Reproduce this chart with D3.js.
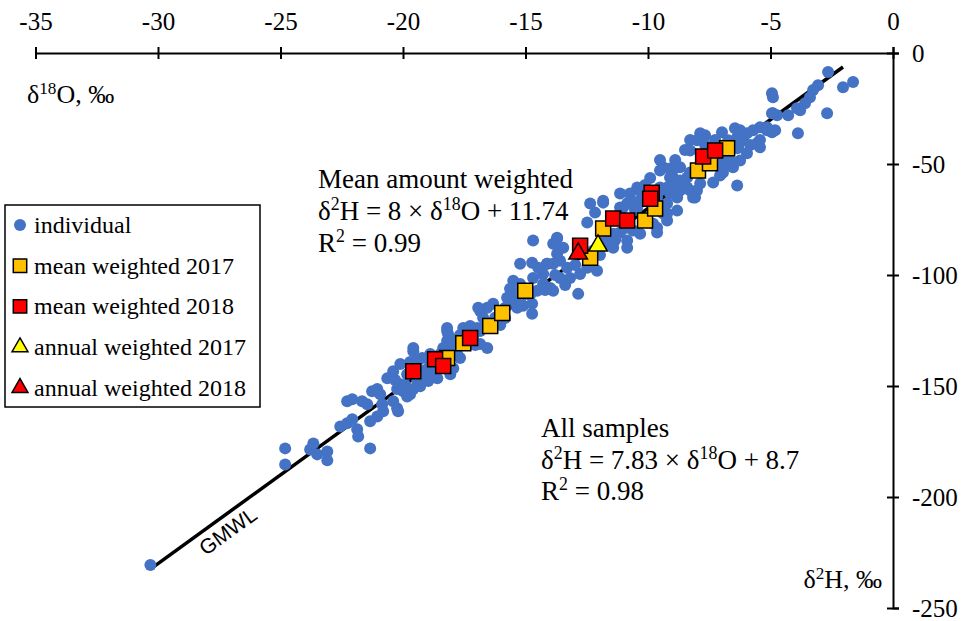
<!DOCTYPE html>
<html>
<head>
<meta charset="utf-8">
<script src="https://cdn.jsdelivr.net/npm/d3@7"></script>
<style>
  body { margin: 0; background: #fff; }
  svg text { font-family: 'Liberation Serif', 'Times New Roman', serif; fill: #000; }
  .gm { font-family: 'Liberation Sans', Arial, sans-serif; }
</style>
</head>
<body>
<div id="root"></div>
<script>
// δ18O, δ2H (‰)
const individual = [
  [-2.65,-8.6],[-2.04,-15.4],[-1.63,-13.1],[-2.69,-27.1],[-3.06,-14.5],[-3.26,-16.7],[-3.39,-19.9],[-3.59,-22.6],
  [-3.79,-25.8],[-3.92,-24.9],[-4.94,-18.1],[-4.90,-19.9],[-4.94,-27.1],[-4.73,-28.0],[-4.28,-28.0],[-3.88,-36.2],
  [-5.43,-42.5],[-5.14,-34.8],[-4.81,-34.8],[-5.43,-33.5],[-5.71,-34.8],[-5.96,-36.2],[-6.24,-34.8],[-6.36,-38.0],
  [-6.12,-39.3],[-5.96,-45.2],[-6.32,-42.5],[-6.36,-59.7],[-6.98,-35.7],[-6.73,-39.3],[-6.53,-42.5],[-7.87,-36.2],
  [-7.67,-37.1],[-8.00,-39.3],[-8.28,-43.9],[-9.38,-51.5],[-9.51,-52.9],[-9.10,-52.0],[-8.81,-51.5],[-8.98,-56.1],
  [-8.69,-57.4],[-8.40,-56.1],[-8.28,-54.2],[-8.69,-61.9],[-8.81,-65.1],[-8.28,-61.9],[-8.08,-65.1],[-7.06,-48.4],
  [-6.94,-53.8],[-6.65,-48.4],[-10.44,-60.6],[-10.73,-63.3],[-11.14,-63.3],[-10.85,-67.8],[-10.44,-69.6],[-9.38,-69.6],
  [-9.22,-72.3],[-9.51,-60.6],[-9.10,-63.3],[-9.63,-65.1],[-11.83,-67.4],[-12.16,-71.9],[-12.48,-76.4],[-11.14,-69.6],
  [-9.79,-76.9],[-9.63,-80.9],[-11.14,-80.9],[-10.85,-84.5],[-11.55,-83.2],[-11.42,-87.7],
  [-7.75,-38.0],[-6.45,-33.9],[-6.24,-36.2],[-5.14,-33.5],[-4.90,-27.1],[-4.94,-35.7],[-5.55,-40.7],[-6.36,-42.9],
  [-6.24,-48.4],[-6.53,-51.5],[-6.94,-51.5],[-6.77,-48.4],[-7.06,-55.2],[-7.34,-58.3],[-7.87,-58.8],[-8.00,-61.9],
  [-8.40,-60.6],[-8.81,-58.8],[-9.10,-56.1],[-8.69,-51.5],[-8.28,-53.8],[-8.98,-63.3],[-9.22,-67.8],[-8.81,-71.0],
  [-8.16,-65.1],[-9.22,-60.6],[-9.51,-61.9],[-10.73,-66.5],[-11.02,-69.6],[-11.14,-73.2],[-11.83,-66.5],[-9.38,-72.3],
  [-10.32,-61.9],
  [-9.51,-71.0],[-9.22,-75.5],[-9.63,-78.7],[-10.32,-81.4],[-10.61,-80.0],[-11.42,-81.4],[-11.67,-85.9],[-10.85,-87.7],
  [-12.24,-89.1],[-12.48,-96.7],[-12.08,-98.1],[-12.77,-99.5],[-13.18,-101.3],[-13.59,-101.3],[-13.30,-96.7],[-13.59,-93.6],
  [-13.87,-94.9],[-13.71,-90.4],[-13.46,-87.7],[-13.71,-83.6],[-14.12,-94.9],[-14.28,-99.5],[-14.48,-96.7],[-14.73,-94.5],
  [-14.69,-101.3],[-14.28,-104.0],[-13.99,-105.8],[-14.52,-107.1],[-14.93,-107.1],[-15.22,-104.0],[-15.50,-102.6],[-15.63,-106.2],
  [-15.34,-108.5],[-15.75,-110.3],[-15.50,-111.7],[-15.83,-114.8],[-15.34,-114.8],[-15.10,-113.9],[-14.73,-113.0],[-12.85,-108.5],
  [-13.87,-107.1],[-16.32,-113.0],[-16.56,-114.8],[-16.85,-116.2],[-16.73,-119.3],[-16.24,-119.3],[-16.44,-122.1],[-14.73,-117.5],
  [-16.85,-125.2],[-17.14,-126.6],[-17.54,-123.9],[-17.26,-123.0],[-18.20,-123.9],[-18.16,-126.6],[-18.20,-129.7],[-17.99,-132.9],
  [-18.36,-132.9],[-18.48,-135.6],[-16.85,-131.1],[-16.56,-132.9],[-19.58,-132.9],[-18.89,-135.6],[-19.22,-137.4],[-19.42,-138.8],
  [-20.11,-140.1],[-20.40,-143.3],[-19.83,-144.7],[-19.18,-146.5],[-18.97,-147.8],[-18.07,-144.7],[-17.95,-142.0],[-17.67,-137.4],
  [-20.64,-146.5],
  [-24.81,-178.1],[-24.81,-185.4],[-23.79,-178.6],[-23.66,-175.9],[-23.50,-180.8],[-23.09,-179.5],[-23.09,-183.5],[-22.56,-168.2],
  [-22.28,-166.8],[-22.07,-165.0],[-21.87,-169.5],[-21.83,-172.7],[-22.28,-156.9],[-22.07,-156.0],[-21.67,-156.9],[-21.46,-158.2],
  [-21.34,-178.1],[-21.26,-152.4],[-21.05,-151.4],[-20.93,-153.7],[-20.85,-158.2],[-20.81,-161.4],[-21.05,-163.7],[-21.34,-165.9],
  [-20.40,-156.9],[-20.24,-160.0],[-20.20,-161.4],[-20.24,-151.4],[-20.11,-149.2],[-19.99,-152.4],[-19.83,-154.7],[-19.71,-153.7],
  [-19.58,-151.4],[-19.42,-147.8],[-19.30,-150.1],[-19.18,-147.8],[-19.58,-134.3],[-18.77,-144.7],[-18.60,-146.5],[-18.48,-142.0],
  [-18.20,-138.8],[-18.20,-125.2],[-18.07,-128.4],[-17.95,-131.1],[-17.79,-135.6],[-17.54,-131.1],[-17.38,-129.7],[-17.14,-128.4],
  [-16.97,-123.9],[-16.93,-114.8],
  [-14.69,-84.5],[-15.22,-94.9],[-13.87,-85.9],[-14.12,-94.9],[-13.71,-83.2],[-12.36,-67.8],
  [-5.43,-39.2],[-5.83,-41.4],[-6.65,-43.7],[-7.26,-39.2],[-7.67,-41.4],[-8.28,-39.2],[-8.49,-43.7],[-8.89,-48.2],
  [-9.51,-48.2],[-9.91,-56.3],[-10.12,-59.5],[-10.32,-66.2],[-10.53,-70.7],[-10.93,-78.8],[-11.34,-84.2],[-11.75,-84.2],
  [-11.96,-91.0],[-12.36,-95.5],[-12.97,-95.5],[-13.38,-104.5],[-13.79,-100.0],[-14.20,-106.8],[-14.81,-109.0],[-15.22,-111.3],
  [-15.83,-119.4],[-16.03,-122.5],[-16.65,-122.5],[-17.05,-131.5],[-17.67,-127.0],[-17.87,-133.8],[-18.48,-138.3],[-18.89,-140.5],
  [-19.71,-139.2],[-20.32,-147.3],[-19.91,-149.5],[-19.09,-142.8],
  [-30.31,-230.6]
];
const mean2017 = [
  [-18.20,-137.4],[-17.54,-130.7],[-16.44,-123.0],[-15.95,-117.1],[-15.01,-107.1],[-12.36,-92.2],[-11.83,-79.1],
  [-10.12,-75.5],[-9.71,-70.1],[-7.96,-52.9],[-7.47,-49.7],[-6.77,-42.9]
];
const mean2018 = [
  [-19.58,-143.3],[-18.69,-137.9],[-18.36,-141.0],[-17.26,-128.4],[-12.77,-86.8],[-11.42,-74.6],[-10.85,-75.5],
  [-9.85,-62.9],[-9.91,-65.6],[-7.75,-46.6],[-7.26,-43.9]
];
const annual2017 = [[-12.04,-86.8]];
const annual2018 = [[-12.85,-90.4]];
const gmwl = [[-30.31,-232.5],[-2.04,-6.3]];
const xTicks = [-35,-30,-25,-20,-15,-10,-5,0];
const yTicks = [0,-50,-100,-150,-200,-250];

const W = 978, H = 621;
const blue = '#4472C4', orange = '#FFC000', red = '#FF0000', yellow = '#FFFF00';

const svg = d3.select('#root').append('svg').attr('width', W).attr('height', H);

const x = d3.scaleLinear().domain([-35, 0]).range([35.5, 893]);
const y = d3.scaleLinear().domain([-250, 0]).range([608, 53]);

// top axis (δ18O)
const ax = svg.append('g').attr('transform', `translate(0,${y(0)})`)
  .call(d3.axisTop(x).tickValues(xTicks).tickSizeOuter(0).tickSize(6).tickFormat(d3.format('d')));
ax.select('.domain').attr('stroke', '#000').attr('stroke-width', 2);
ax.selectAll('.tick line').attr('y1', -6).attr('y2', 6).attr('stroke', '#000').attr('stroke-width', 2);
ax.selectAll('.tick text').attr('y', -23).attr('dy', 0).style('font-size', '25px')
  .text(d => d < 0 ? '-' + Math.abs(d) : d);

// right axis (δ2H)
const ay = svg.append('g').attr('transform', `translate(${x(0)},0)`)
  .call(d3.axisRight(y).tickValues(yTicks).tickSizeOuter(0).tickSize(6));
ay.select('.domain').attr('stroke', '#000').attr('stroke-width', 2);
ay.selectAll('.tick line').attr('x1', -6).attr('x2', 6).attr('stroke', '#000').attr('stroke-width', 2);
ay.selectAll('.tick text').attr('x', 19).attr('dy', '0.35em').style('font-size', '25px')
  .text(d => d < 0 ? '-' + Math.abs(d) : d);

// text with superscripts: parts = [[string, isSup], ...]
function rich(g, px, py, fs, parts, anchor) {
  const t = g.append('text').attr('x', px).attr('y', py).style('font-size', fs + 'px')
    .attr('text-anchor', anchor || 'start');
  const sh = fs * 0.36;
  let up = false;
  parts.forEach(([s, sup]) => {
    const ts = t.append('tspan').text(s);
    if (sup) { ts.style('font-size', (fs * 0.66) + 'px').attr('dy', up ? 0 : -sh); up = true; }
    else { if (up) ts.attr('dy', sh); up = false; }
  });
  return t;
}

rich(svg, 27, 103, 26, [['δ'], ['18', 1], ['O, ‰']]);
rich(svg, 882, 588, 26, [['δ'], ['2', 1], ['H, ‰']], 'end');

// GMWL line
svg.append('line')
  .attr('x1', x(gmwl[0][0])).attr('y1', y(gmwl[0][1]))
  .attr('x2', x(gmwl[1][0])).attr('y2', y(gmwl[1][1]))
  .attr('stroke', '#000').attr('stroke-width', 3.5);

const ang = Math.atan2(y(gmwl[1][1]) - y(gmwl[0][1]), x(gmwl[1][0]) - x(gmwl[0][0])) * 180 / Math.PI;
const gx = -27.5, gy = 8 * gx + 10;
svg.append('text').attr('class', 'gm')
  .attr('transform', `translate(${x(gx)},${y(gy)}) rotate(${ang})`)
  .attr('y', 22).attr('text-anchor', 'middle').style('font-size', '21px').text('GMWL');

// individual samples
svg.append('g').selectAll('circle').data(individual).join('circle')
  .attr('cx', d => x(d[0])).attr('cy', d => y(d[1])).attr('r', 6).attr('fill', blue);

const sq = d3.symbol().type(d3.symbolSquare).size(225);
const tri = d3.symbol().type(d3.symbolTriangle).size(150);

function marks(data, path, fill) {
  svg.append('g').selectAll('path').data(data).join('path')
    .attr('d', path).attr('transform', d => `translate(${x(d[0])},${y(d[1])})`)
    .attr('fill', fill).attr('stroke', '#000').attr('stroke-width', 1.5);
}
marks(mean2017, sq, orange);
marks(mean2018, sq, red);
marks(annual2017, tri, yellow);
marks(annual2018, tri, red);

// annotations
const ann = svg.append('g');
ann.append('text').attr('x', 318).attr('y', 188).style('font-size', '27px').text('Mean amount weighted');
rich(ann, 318, 220, 27, [['δ'], ['2', 1], ['H = 8 × δ'], ['18', 1], ['O + 11.74']]);
rich(ann, 318, 252, 27, [['R'], ['2', 1], [' = 0.99']]);
ann.append('text').attr('x', 541).attr('y', 437).style('font-size', '27px').text('All samples');
rich(ann, 541, 469, 27, [['δ'], ['2', 1], ['H = 7.83 × δ'], ['18', 1], ['O + 8.7']]);
rich(ann, 541, 500, 27, [['R'], ['2', 1], [' = 0.98']]);

// legend
const legendItems = ['individual', 'mean weighted 2017', 'mean weighted 2018', 'annual weighted 2017', 'annual weighted 2018'];
const lg = svg.append('g');
lg.append('rect').attr('x', 5).attr('y', 205).attr('width', 255).attr('height', 202)
  .attr('fill', '#fff').attr('stroke', '#000').attr('stroke-width', 1.5);
legendItems.forEach((name, i) => {
  const cy = 225 + i * 40.7;
  if (i === 0) lg.append('circle').attr('cx', 20).attr('cy', cy).attr('r', 6).attr('fill', blue);
  else {
    const p = i < 3 ? d3.symbol().type(d3.symbolSquare).size(180) : d3.symbol().type(d3.symbolTriangle).size(110);
    lg.append('path').attr('d', p).attr('transform', `translate(20,${cy})`)
      .attr('fill', [null, orange, red, yellow, red][i]).attr('stroke', '#000').attr('stroke-width', 1.5);
  }
  lg.append('text').attr('x', 34).attr('y', cy + 8).style('font-size', '24px').text(name);
});
</script>
</body>
</html>
